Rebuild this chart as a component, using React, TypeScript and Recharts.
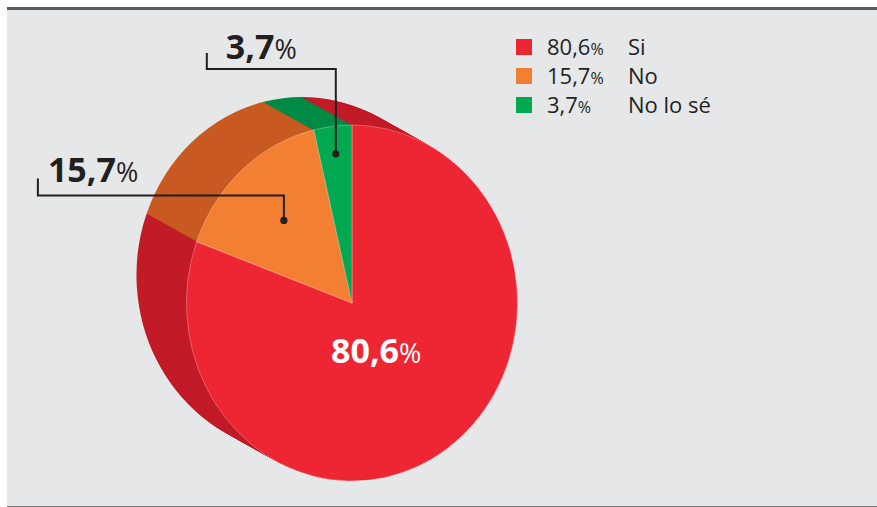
import { Cell, Legend, Pie, PieChart } from 'recharts';

const categories = ['Si', 'No', 'No lo sé'];
const shares = [80.6, 15.7, 3.7];
const faceColors = ['#ee2532', '#f38032', '#00a84f'];
const sideColors = ['#c21b28', '#c85a22', '#008a44'];

const pieData = categories.map((name, i) => ({ name, value: shares[i] }));

// pie geometry (page pixels); the pie layer is squeezed horizontally by SX
const CX = 352;
const CY = 303;
const R = 178;
const SX = 0.93;
const DEPTH_X = -50;
const DEPTH_Y = -28;
const LAYERS = 30;

const INK = '#231f20';
const FONT = '"Open Sans", "Noto Sans", sans-serif';
const NO_MARGIN = { top: 0, right: 0, bottom: 0, left: 0 };

// callout placement for each slice label
const labelLayout = [
  { r: 0.34, inside: true, rise: 0, run: 0, tick: 0, tx: 0, ty: 0 },
  { r: 0.62, inside: false, rise: 25, run: 246, tick: 17, tx: 10, ty: -13 },
  { r: 0.843, inside: false, rise: 85, run: 129, tick: 16, tx: 19, ty: -10 }
];

const fmt = (v: number) => v.toFixed(1).replace('.', ',');

const sideLayers = Array.from({ length: LAYERS }, (_, i) => (LAYERS - i) / LAYERS);

function renderLabel(props: any) {
  const { cx, cy, midAngle, outerRadius, index } = props;
  const cfg = labelLayout[index];
  const rad = (midAngle * Math.PI) / 180;
  const r = outerRadius * cfg.r;
  const x = cx + SX * r * Math.cos(rad);
  const y = cy - r * Math.sin(rad);
  const num = fmt(shares[index]);

  if (cfg.inside) {
    return (
      <text x={x - 8} y={y + 10} textAnchor="middle" fill="#ffffff" fontFamily={FONT}>
        <tspan fontSize={34} fontWeight={700}>{num}</tspan>
        <tspan fontSize={27}>%</tspan>
      </text>
    );
  }

  const ey = y - cfg.rise;
  const ex = x - cfg.run;
  return (
    <g>
      <polyline
        points={`${x},${y} ${x},${ey} ${ex},${ey} ${ex},${ey - cfg.tick}`}
        fill="none"
        stroke={INK}
        strokeWidth={2}
      />
      <circle cx={x} cy={y} r={3.6} fill={INK} />
      <text x={ex + cfg.tx} y={ey + cfg.ty} fill={INK} fontFamily={FONT}>
        <tspan fontSize={34} fontWeight={700}>{num}</tspan>
        <tspan fontSize={27}>%</tspan>
      </text>
    </g>
  );
}

function renderLegend() {
  return (
    <div style={{ fontFamily: FONT, color: INK }}>
      {categories.map((name, i) => (
        <div key={name} style={{ position: 'relative', height: 29 }}>
          <div style={{ position: 'absolute', left: 0, top: 0, width: 16, height: 16, background: faceColors[i] }} />
          <div style={{ position: 'absolute', left: 31, top: -5, fontSize: 22, lineHeight: '24px', whiteSpace: 'nowrap' }}>
            {fmt(shares[i])}
            <span style={{ fontSize: 16 }}>%</span>
          </div>
          <div style={{ position: 'absolute', left: 112, top: -5, fontSize: 22, lineHeight: '24px', whiteSpace: 'nowrap' }}>
            {name}
          </div>
        </div>
      ))}
    </div>
  );
}

export default function App() {
  return (
    <div style={{ position: 'absolute', left: 0, top: 0, width: 877, height: 507, background: '#ffffff' }}>
      <div
        style={{
          position: 'absolute',
          left: 7,
          top: 7,
          width: 870,
          height: 496,
          background: '#e6e7e9',
          borderTop: '3px solid #5b5b5b',
          borderBottom: '2px solid #7a7a7a'
        }}
      />
      {/* extruded pie body, squeezed into an ellipse */}
      <div style={{ position: 'absolute', left: 0, top: 0, transform: `scaleX(${SX})`, transformOrigin: `${CX}px 0px` }}>
        <PieChart width={877} height={507} margin={NO_MARGIN}>
          {sideLayers.map((t) => (
            <Pie
              key={`side-${t}`}
              data={pieData}
              dataKey="value"
              nameKey="name"
              cx={CX + (DEPTH_X / SX) * t}
              cy={CY + DEPTH_Y * t}
              outerRadius={R}
              startAngle={90}
              endAngle={-270}
              stroke="none"
              isAnimationActive={false}
            >
              {pieData.map((d, i) => (
                <Cell key={d.name} fill={sideColors[i]} />
              ))}
            </Pie>
          ))}
          <Pie
            data={pieData}
            dataKey="value"
            nameKey="name"
            cx={CX}
            cy={CY}
            outerRadius={R}
            startAngle={90}
            endAngle={-270}
            stroke="rgba(255,255,255,0.35)"
            strokeWidth={0.8}
            isAnimationActive={false}
          >
            {pieData.map((d, i) => (
              <Cell key={d.name} fill={faceColors[i]} />
            ))}
          </Pie>
        </PieChart>
      </div>
      {/* labels and legend, unsqueezed */}
      <div style={{ position: 'absolute', left: 0, top: 0 }}>
        <PieChart width={877} height={507} margin={NO_MARGIN}>
          <Pie
            data={pieData}
            dataKey="value"
            nameKey="name"
            cx={CX}
            cy={CY}
            outerRadius={R}
            startAngle={90}
            endAngle={-270}
            fill="transparent"
            stroke="none"
            label={renderLabel}
            labelLine={false}
            isAnimationActive={false}
          />
          <Legend
            content={renderLegend}
            layout="vertical"
            verticalAlign="top"
            align="right"
            wrapperStyle={{ top: 39, left: 516, right: 'auto', width: 240 }}
          />
        </PieChart>
      </div>
    </div>
  );
}
